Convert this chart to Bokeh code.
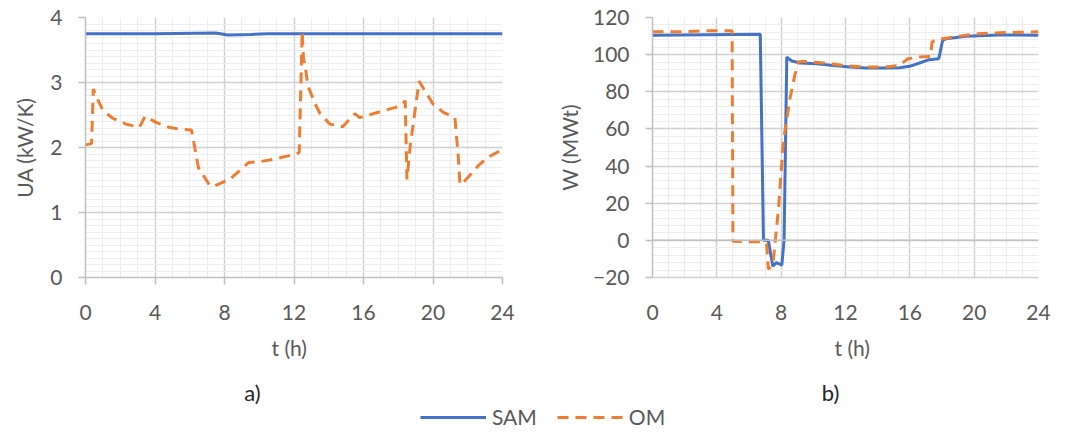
from bokeh.plotting import figure
from bokeh.layouts import column, row
from bokeh.models import (Range1d, SingleIntervalTicker, Title, Legend, LegendItem, Span, Label)
from bokeh.embed import file_html
from bokeh.resources import INLINE

# ---------------- data ----------------
t_ua_sam = [0, 4, 7.5, 8.2, 9.5, 10.5, 24]
ua_sam = [3.75, 3.75, 3.76, 3.73, 3.74, 3.75, 3.75]

t_ua_om = [0, 0.35, 0.45, 0.6, 1.0, 1.57, 2.33, 3.1, 3.43, 4.03, 4.8, 5.45, 6.1,
           6.5, 7.16, 7.44, 8.3, 9.4, 10.0, 10.85, 12.1, 12.3, 12.47, 12.55, 12.62,
           12.8, 13.2, 13.5, 14.07, 14.8, 15.5, 15.78, 16.7, 17.48, 18.15, 18.4,
           18.5, 18.7, 19.2, 20.0, 20.6, 21.26, 21.46, 21.55, 21.74, 22.6, 23.16, 24]
ua_om = [2.04, 2.06, 2.9, 2.8, 2.57, 2.45, 2.36, 2.31, 2.48, 2.39, 2.31, 2.28, 2.27,
         1.69, 1.41, 1.41, 1.51, 1.77, 1.78, 1.82, 1.90, 1.92, 3.78, 3.35, 3.3,
         2.95, 2.68, 2.52, 2.36, 2.32, 2.52, 2.46, 2.53, 2.59, 2.64, 2.72,
         1.51, 2.05, 3.02, 2.67, 2.54, 2.46, 1.85, 1.43, 1.46, 1.72, 1.85, 1.97]

t_w_sam = [0, 6.7, 6.9, 7.2, 7.48, 7.7, 8.04, 8.18, 8.35, 8.66, 9.2, 10.2, 11.24,
           12.27, 13.3, 14.33, 15.36, 15.98, 16.6, 17.2, 17.8, 18.04, 18.25, 19.5,
           21.5, 24]
w_sam = [110.5, 111, 0, 0, -13.9, -12, -13.3, 0, 98.7, 96.6, 95.5, 95.1, 94.2,
         93.3, 92.8, 92.8, 93, 93.7, 95.5, 97.3, 97.8, 107.7, 108.6, 109.9,
         110.6, 110.5]

t_w_om = [0, 2, 3, 4.95, 5.0, 5.88, 6.9, 7.1, 7.2, 7.36, 7.5, 7.84, 8.14, 8.56,
          8.87, 9.07, 9.38, 10.6, 11.86, 13.3, 14.5, 15.36, 15.88, 16.6, 17.3,
          17.38, 17.63, 18.04, 19.5, 20.5, 21.96, 24]
w_om = [112.3, 112.3, 112.8, 112.8, -0.5, -0.7, -0.7, -2, -15.5, -14, -12, 17.7,
        53.7, 77, 89.7, 96, 96.4, 95.5, 94.2, 93.3, 93.3, 94.2, 97.8, 98.7, 99,
        106.8, 108, 108.6, 110.5, 111.4, 111.9, 112.3]

x_axis_title = "t (h)"
y_titles = ["UA (kW/K)", "W (MWt)"]
panel_tags = ["a)", "b)"]
series_names = ["SAM", "OM"]

# ---------------- style ----------------
FONT = "Lato"
GREY = "#595959"
BLUE = "#4472C4"
ORANGE = "#ED7D31"
MAJ = "#d0d0d0"
MIN = "#ededed"
AX = "#bfbfbf"
FS = "21px"
DASH = "11 7"


def style(p, yint, yminor, xticks_visible=True):
    p.outline_line_color = None
    p.xaxis.ticker = SingleIntervalTicker(interval=4, num_minor_ticks=4)
    p.yaxis.ticker = SingleIntervalTicker(interval=yint, num_minor_ticks=yminor)
    for ax in (p.xaxis[0], p.yaxis[0]):
        ax.major_label_text_font = FONT
        ax.major_label_text_font_size = FS
        ax.major_label_text_color = GREY
        ax.axis_label_text_font = FONT
        ax.axis_label_text_font_size = FS
        ax.axis_label_text_color = GREY
        ax.axis_label_text_font_style = "normal"
        ax.axis_line_color = AX
        ax.axis_line_width = 1.5
        ax.major_tick_line_color = AX
        ax.major_tick_line_width = 1.5
        ax.major_tick_in = 0
        ax.major_tick_out = 7
        ax.minor_tick_line_color = None
    p.xaxis.major_label_standoff = 20
    p.yaxis.major_label_standoff = 16
    p.yaxis.axis_label_standoff = 10
    p.xgrid.grid_line_color = MAJ
    p.ygrid.grid_line_color = MAJ
    p.xgrid.grid_line_width = 1.5
    p.ygrid.grid_line_width = 1.5
    p.xgrid.minor_grid_line_color = MIN
    p.ygrid.minor_grid_line_color = MIN
    p.xgrid.minor_grid_line_width = 1
    p.ygrid.minor_grid_line_width = 1
    if not xticks_visible:
        p.xaxis.major_tick_line_color = None
        p.xaxis.axis_line_color = MAJ


def add_x_title(p, off):
    t1 = Title(text=x_axis_title, align="left", offset=off, text_font=FONT,
               text_font_size=FS, text_color=GREY, text_font_style="normal", standoff=20)
    p.add_layout(t1, "below")


# ---------------- panel a ----------------
p1 = figure(frame_width=417, frame_height=260, output_backend="svg", toolbar_location=None,
            x_range=Range1d(0, 24), y_range=Range1d(0, 4),
            min_border_left=85, min_border_right=51, min_border_top=17, min_border_bottom=103)
style(p1, 1, 10)
p1.yaxis.axis_label = y_titles[0]
p1.line(t_ua_sam, ua_sam, color=BLUE, line_width=3)
p1.line(t_ua_om, ua_om, color=ORANGE, line_width=3, line_dash=DASH)
add_x_title(p1, 186)

# ---------------- panel b ----------------
p2 = figure(frame_width=386, frame_height=260, output_backend="svg", toolbar_location=None,
            x_range=Range1d(0, 24), y_range=Range1d(-20, 120),
            min_border_left=94, min_border_right=40, min_border_top=17, min_border_bottom=103)
style(p2, 20, 5, xticks_visible=False)
p2.yaxis.axis_label = y_titles[1]
p2.yaxis.axis_label_standoff = 8
p2.add_layout(Span(location=0, dimension="width", line_color=AX, line_width=1.5))
p2.line(t_w_sam, w_sam, color=BLUE, line_width=3)
p2.line(t_w_om, w_om, color=ORANGE, line_width=3, line_dash=DASH)
add_x_title(p2, 182)

# ---------------- bottom strip: panel tags + legend ----------------
p3 = figure(width=1073, height=50, output_backend="svg", toolbar_location=None,
            x_range=Range1d(0, 24), y_range=Range1d(1000, 1001), min_border=0)
p3.axis.visible = False
p3.grid.visible = False
p3.outline_line_color = None
r1 = p3.line(t_ua_sam, ua_sam, color=BLUE, line_width=3)
r2 = p3.line(t_ua_om, ua_om, color=ORANGE, line_width=3, line_dash=DASH)
for tag, sx in zip(panel_tags, [252, 830]):
    p3.add_layout(Label(x=sx, y=38, x_units="screen", y_units="screen", text=tag,
                        text_align="center", text_baseline="middle", text_font=FONT,
                        text_font_size="22px", text_color="#262626"))
leg = Legend(items=[LegendItem(label=series_names[0], renderers=[r1]),
                    LegendItem(label=series_names[1], renderers=[r2])],
             orientation="horizontal", location=(420, 1), glyph_width=66,
             glyph_height=20, label_height=20, label_standoff=6, spacing=20,
             padding=0, margin=0, border_line_color=None, background_fill_alpha=0,
             label_text_font=FONT, label_text_font_size=FS, label_text_color=GREY)
p3.add_layout(leg)

layout = column(row(p1, p2), p3)
open("out.html", "w").write(file_html(layout, INLINE))
